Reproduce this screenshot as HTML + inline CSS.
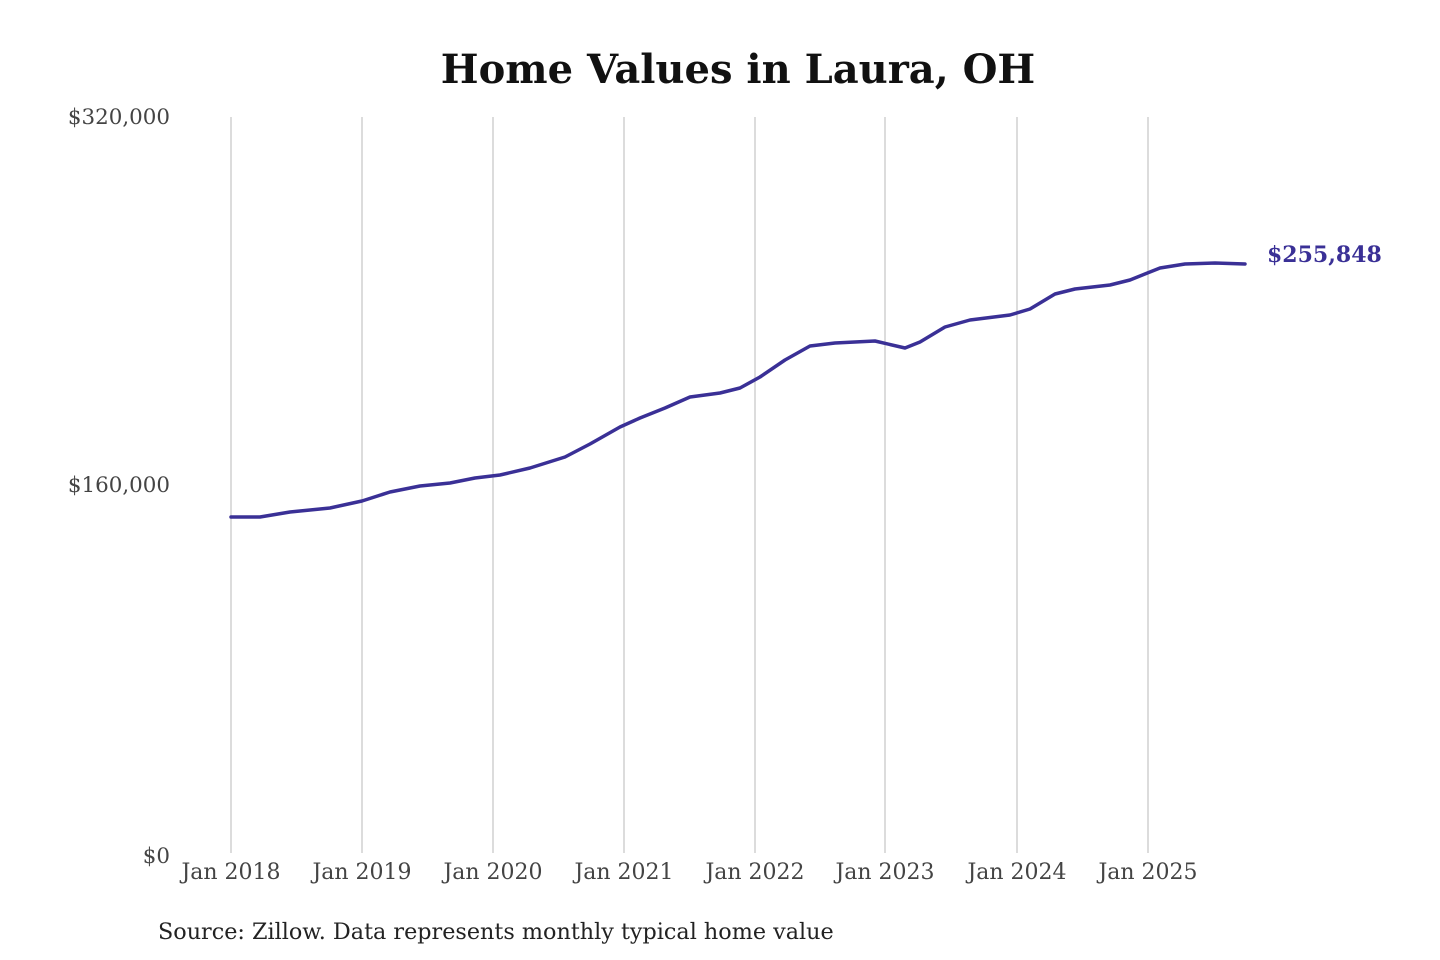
<!DOCTYPE html>
<html><head><meta charset="utf-8"><style>
html,body{margin:0;padding:0;background:#fff;width:1440px;height:960px;overflow:hidden}
</style></head><body>
<svg width="1440" height="960" xmlns="http://www.w3.org/2000/svg" font-family="'DejaVu Serif','Liberation Serif',serif">
<text x="738" y="83" text-anchor="middle" font-size="40" font-weight="bold" fill="#111">Home Values in Laura, OH</text>
<g stroke="#c4c4c4" stroke-width="1.2">
<line x1="231" y1="117" x2="231" y2="853"/><line x1="362" y1="117" x2="362" y2="853"/>
<line x1="493" y1="117" x2="493" y2="853"/><line x1="624" y1="117" x2="624" y2="853"/>
<line x1="755" y1="117" x2="755" y2="853"/><line x1="885" y1="117" x2="885" y2="853"/>
<line x1="1017" y1="117" x2="1017" y2="853"/><line x1="1148" y1="117" x2="1148" y2="853"/>
</g>
<g font-size="21.4" fill="#444" text-anchor="end">
<text x="170" y="124">$320,000</text>
<text x="170" y="492">$160,000</text>
<text x="170" y="863">$0</text>
</g>
<g font-size="22" fill="#444" text-anchor="middle">
<text x="231" y="879">Jan 2018</text><text x="362" y="879">Jan 2019</text>
<text x="493" y="879">Jan 2020</text><text x="624" y="879">Jan 2021</text>
<text x="755" y="879">Jan 2022</text><text x="885" y="879">Jan 2023</text>
<text x="1017" y="879">Jan 2024</text><text x="1148" y="879">Jan 2025</text>
</g>
<polyline fill="none" stroke="#3a3096" stroke-width="3.5" stroke-linejoin="round" stroke-linecap="round"
points="231,517 260,517 290,512 330,508 362,501 390,492 420,486 450,483 475,478 500,475 530,468 565,457 590,444 620,427 640,418 665,408 690,397 720,393 740,388 760,377 785,360 810,346 835,343 875,341 905,348 920,342 945,327 970,320 1010,315 1030,309 1055,294 1075,289 1110,285 1130,280 1160,268 1185,264 1215,263 1245,264"/>
<text x="1267" y="262" font-size="22" font-weight="bold" fill="#3a3096">$255,848</text>
<text x="158" y="939" font-size="22.3" fill="#222">Source: Zillow. Data represents monthly typical home value</text>
</svg>
</body></html>
